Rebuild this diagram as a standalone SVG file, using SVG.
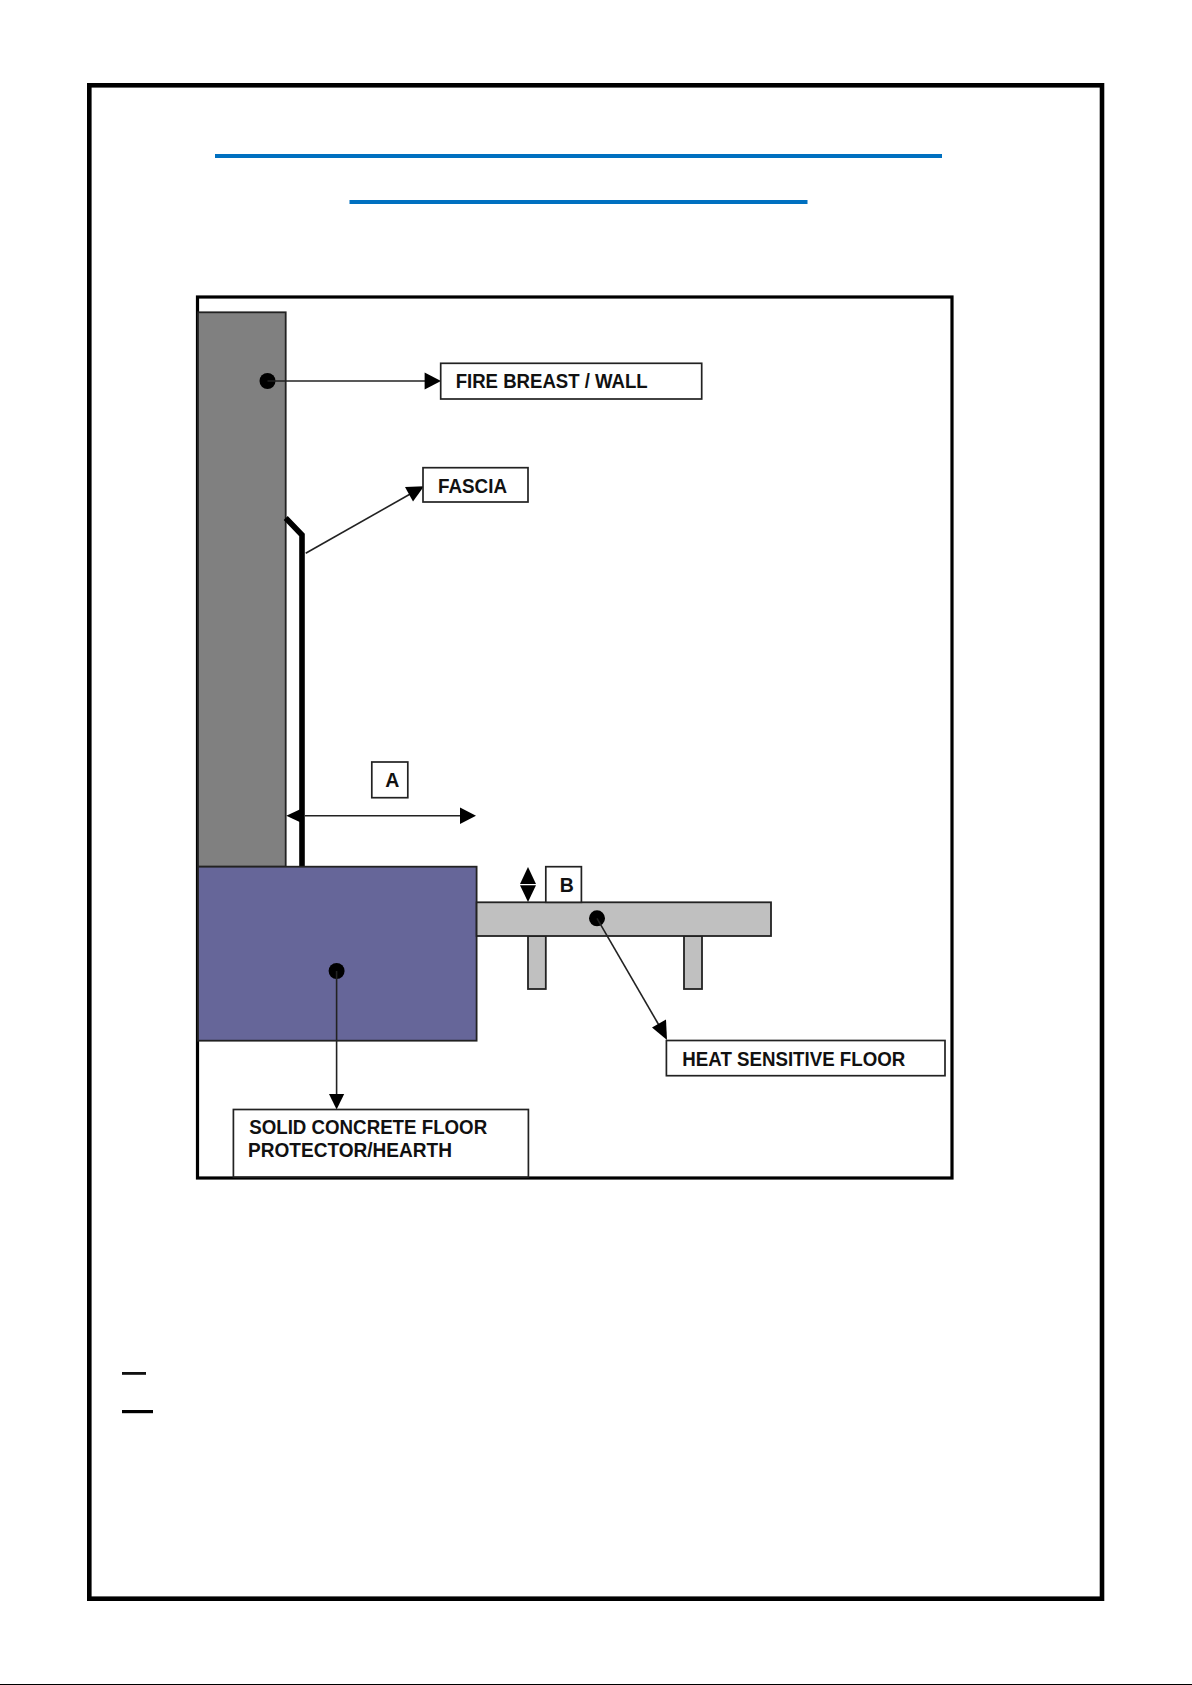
<svg xmlns="http://www.w3.org/2000/svg" width="1192" height="1685" viewBox="0 0 1192 1685">
<style>
.lbl{fill:#fff;stroke:#222;stroke-width:1.7}
.t{font-family:"Liberation Sans",Arial,sans-serif;font-weight:bold;font-size:19.5px;fill:#111}
.c{stroke:#222;stroke-width:1.6;fill:none}
.h{fill:#000;stroke:none}
.dot{fill:#000}
.shape{stroke:#222;stroke-width:1.8}
</style>
<rect width="1192" height="1685" fill="#fff"/>
<rect x="89.3" y="85.3" width="1012.7" height="1513.4" fill="none" stroke="#000" stroke-width="4.6"/>
<rect x="215" y="154" width="727" height="4" fill="#0070c0"/>
<rect x="349.5" y="200" width="458" height="4" fill="#0070c0"/>
<rect x="122" y="1372" width="24" height="2.8" fill="#111"/>
<rect x="122" y="1410" width="31" height="3.2" fill="#000"/>
<rect x="0" y="1684" width="1192" height="1" fill="#000"/>
<rect x="197.5" y="297" width="754.5" height="881" fill="#fff" stroke="#000" stroke-width="3.2"/>
<g id="wall"><rect class="shape" x="198" y="312.3" width="87.7" height="554.4" fill="#808080"/></g>
<g id="fascia"><path d="M285.7 518L302 535V867" fill="none" stroke="#000" stroke-width="5.6"/></g>
<g id="hearth"><rect class="shape" x="198" y="866.7" width="278.6" height="174" fill="#666699"/></g>
<g id="floor">
<rect class="shape" x="528" y="936" width="17.8" height="53" fill="#c0c0c0"/>
<rect class="shape" x="684" y="936" width="18" height="53" fill="#c0c0c0"/>
<rect class="shape" x="476.6" y="902.3" width="294.4" height="33.7" fill="#c0c0c0"/>
</g>
<g id="connectors">
<circle class="dot" cx="267.5" cy="381" r="8"/>
<path class="c" d="M267.5 381H426"/>
<path class="h" d="M441 381L424.6 372.5V389.5Z"/>
<path class="c" d="M305.7 553.3L412 493"/>
<path class="h" d="M424 486.2L405 487L413 501.5Z"/>
<path class="c" d="M305 815.7H462"/>
<path class="h" d="M286.3 815.7L304 807.5V823.9Z"/>
<path class="h" d="M476 815.7L460 807.5V823.9Z"/>
<path class="h" d="M528 867L520 884H536Z"/>
<path class="h" d="M528 902L520 885.3H536Z"/>
<circle class="dot" cx="597" cy="918.3" r="8"/>
<path class="c" d="M597 918.3L660 1027"/>
<path class="h" d="M667 1040L652 1027.5L666 1019.5Z"/>
<circle class="dot" cx="336.6" cy="971" r="8"/>
<path class="c" d="M336.6 971V1096"/>
<path class="h" d="M336.6 1109.5L329 1094H344.2Z"/>
</g>
<g id="label-fire-breast"><rect class="lbl" x="440.7" y="363.3" width="261" height="35.7"/><text class="t" x="455.7" y="388.3" textLength="192" lengthAdjust="spacingAndGlyphs">FIRE BREAST / WALL</text></g>
<g id="label-fascia"><rect class="lbl" x="423" y="467.7" width="105" height="34.3"/><text class="t" x="438" y="493.3" textLength="69" lengthAdjust="spacingAndGlyphs">FASCIA</text></g>
<g id="label-a"><rect class="lbl" x="371.8" y="762" width="36" height="35.7"/><text class="t" x="392.3" y="786.7" text-anchor="middle">A</text></g>
<g id="label-b"><rect class="lbl" x="545.8" y="866.7" width="35.6" height="35.6"/><text class="t" x="566.7" y="891.7" text-anchor="middle">B</text></g>
<g id="label-heat"><rect class="lbl" x="666.4" y="1040.5" width="278.6" height="35.2"/><text class="t" x="682.3" y="1065.5" textLength="223" lengthAdjust="spacingAndGlyphs">HEAT SENSITIVE FLOOR</text></g>
<g id="label-solid"><rect class="lbl" x="233.4" y="1109.5" width="295" height="67.5"/><text class="t" x="249.2" y="1134.3" textLength="238" lengthAdjust="spacingAndGlyphs">SOLID CONCRETE FLOOR</text><text class="t" x="248" y="1156.7" textLength="204" lengthAdjust="spacingAndGlyphs">PROTECTOR/HEARTH</text></g>
</svg>
